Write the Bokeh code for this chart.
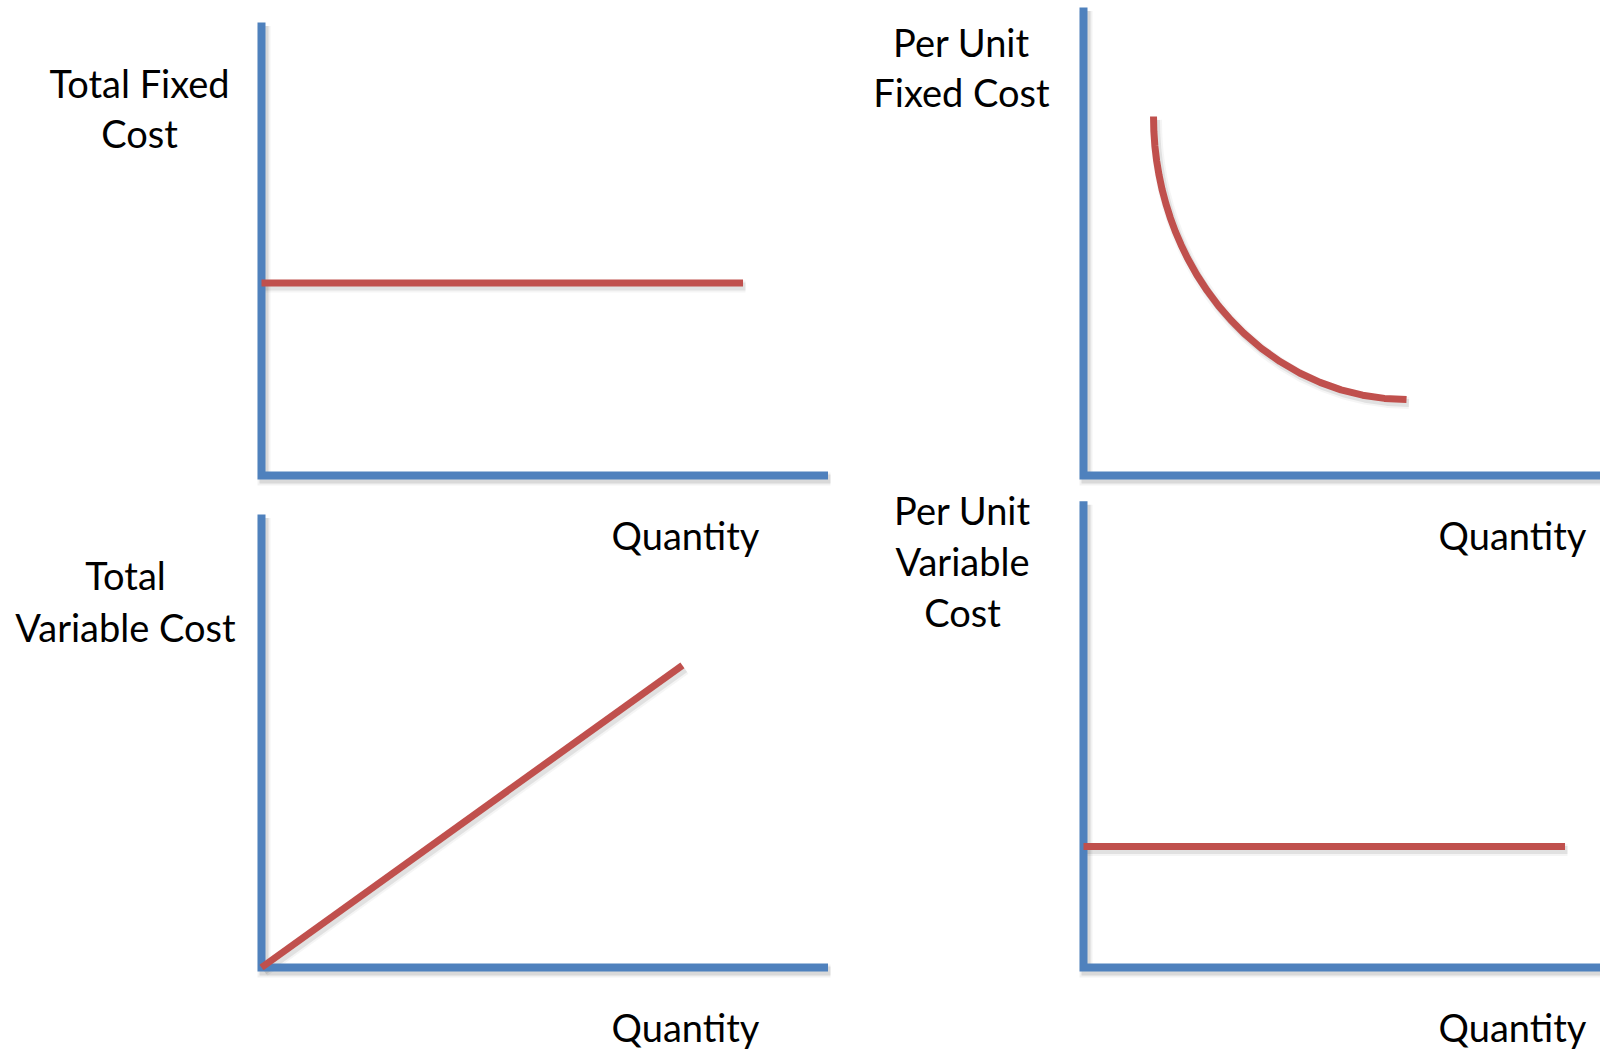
from bokeh.plotting import figure
from bokeh.models import Range1d
from bokeh.embed import file_html
from bokeh.resources import INLINE
from bokeh.core.properties import value

# ---- data (quantity on x, cost on y, arbitrary units) ----
tfc_quantity = [0.0, 8.5]
tfc_cost = [4.25, 4.25]

afc_quantity = [1.236, 1.242, 1.260, 1.291, 1.334, 1.388, 1.455, 1.533,
                1.622, 1.723, 1.834, 1.999, 2.183, 2.383, 2.600, 2.831,
                3.140, 3.469, 3.815, 4.175, 4.546, 4.927, 5.313, 5.702]
afc_cost = [7.925, 7.598, 7.272, 6.948, 6.626, 6.308, 5.995, 5.686,
            5.384, 5.089, 4.802, 4.432, 4.079, 3.745, 3.431, 3.140,
            2.808, 2.515, 2.263, 2.055, 1.891, 1.773, 1.702, 1.678]

tvc_quantity = [0.0, 7.43]
tvc_cost = [0.0, 6.67]

avc_quantity = [0.0, 8.5]
avc_cost = [2.67, 2.67]

y_titles = [["Total Fixed", "Cost"],
            ["Per Unit", "Fixed Cost"],
            ["Total", "Variable Cost"],
            ["Per Unit", "Variable", "Cost"]]
x_title = "Quantity"

# ---- page geometry ----
W, H = 1600, 1049
BLUE = "#4F81BD"
RED = "#C0504D"
FONT = "Lato"
FONT_SIZE = "38px"
SX, SY = 56.65, 45.3          # pixels per unit along quantity / cost
X_LEN = 10.0                  # length of the quantity axis

panels = [
    dict(origin=(261, 475), y_len=10.0, q=tfc_quantity, c=tfc_cost,
         title_x=139, title_y=[82, 132], qlab=(685, 534)),
    dict(origin=(1083, 475), y_len=10.33, q=afc_quantity, c=afc_cost,
         title_x=961, title_y=[41, 91], qlab=(1512, 534)),
    dict(origin=(261, 967), y_len=10.0, q=tvc_quantity, c=tvc_cost,
         title_x=125, title_y=[574, 626], qlab=(685, 1026)),
    dict(origin=(1083, 967), y_len=10.29, q=avc_quantity, c=avc_cost,
         title_x=962, title_y=[509, 560, 611], qlab=(1512, 1026)),
]

p = figure(width=W, height=H, x_range=Range1d(0, W), y_range=Range1d(H, 0),
           x_axis_type=None, y_axis_type=None, toolbar_location=None,
           min_border=0, output_backend="svg")
p.outline_line_color = None
p.background_fill_color = "white"
p.border_fill_color = "white"

for i, pan in enumerate(panels):
    ox, oy = pan["origin"]
    xr, yr = f"q{i}", f"c{i}"
    p.extra_x_ranges[xr] = Range1d(-ox / SX, (W - ox) / SX)
    p.extra_y_ranges[yr] = Range1d((oy - H) / SY, oy / SY)

    # soft drop shadow for the axes and the cost line
    dx, dy = 2.5 / SX, -3.5 / SY
    ax_x = [0, 0, X_LEN]
    ax_y = [pan["y_len"], 0, 0]
    for w, a in ((13, 0.05), (9, 0.10)):
        p.line([v + dx for v in ax_x], [v + dy for v in ax_y], line_width=w,
               line_color="black", line_alpha=a, line_join="miter",
               x_range_name=xr, y_range_name=yr)
        p.line([v + dx for v in pan["q"]], [v + dy for v in pan["c"]],
               line_width=w - 1, line_color="black", line_alpha=a * 0.8,
               line_join="round", x_range_name=xr, y_range_name=yr)

    # axes
    p.line(ax_x, ax_y, line_width=8, line_color=BLUE, line_join="miter",
           line_cap="butt", x_range_name=xr, y_range_name=yr)
    # cost curve
    p.line(pan["q"], pan["c"], line_width=7, line_color=RED,
           line_cap="butt", line_join="round",
           x_range_name=xr, y_range_name=yr)

    # titles
    lines = y_titles[i]
    p.text(x=[pan["title_x"]] * len(lines), y=pan["title_y"], text=lines,
           text_font=value(FONT), text_font_size=FONT_SIZE,
           text_align="center", text_baseline="alphabetic", text_color="black")
    p.text(x=[pan["qlab"][0]], y=[pan["qlab"][1]], text=[x_title],
           text_font=value(FONT), text_font_size=FONT_SIZE,
           text_align="center", text_baseline="alphabetic", text_color="black")

open("out.html", "w").write(file_html(p, INLINE))
